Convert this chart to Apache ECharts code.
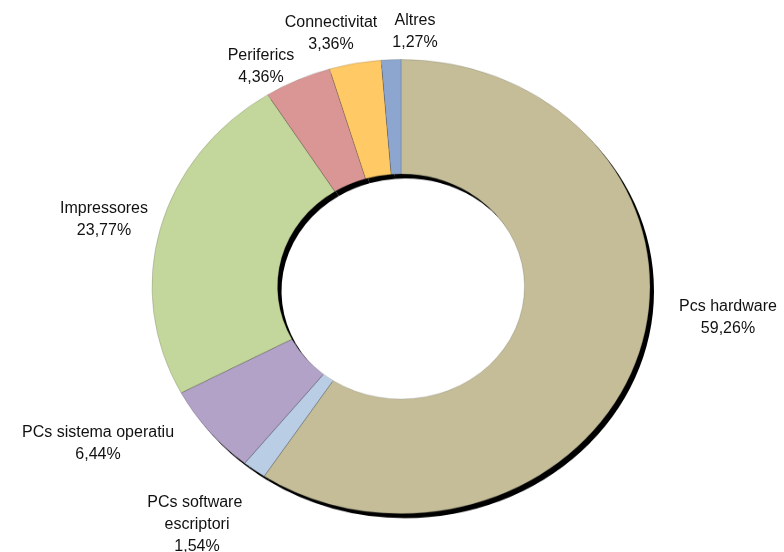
<!DOCTYPE html>
<html>
<head>
<meta charset="utf-8">
<script src="https://cdn.jsdelivr.net/npm/echarts@6/dist/echarts.min.js"></script>
<style>
  html, body { margin: 0; padding: 0; background: #fff; }
  #wrap { position: relative; width: 784px; height: 552px; overflow: hidden; }
  #ring { position: absolute; left: 0; top: 0; width: 784px; height: 552px;
          transform-origin: 0 286.5px; transform: scaleY(0.912); }
  #labels { position: absolute; left: 0; top: 0; width: 784px; height: 552px; }
</style>
</head>
<body>
<div id="wrap">
  <div id="ring"></div>
  <div id="labels"></div>
</div>
<script>
// ---- data ----
var categories = ['Pcs hardware', 'PCs software escriptori', 'PCs sistema operatiu',
                  'Impressores', 'Periferics', 'Connectivitat', 'Altres'];
var shares = [59.26, 1.54, 6.44, 23.77, 4.36, 3.36, 1.27];

// ---- styling / layout (not data) ----
var colors = ['#C4BD97', '#B9CDE5', '#B2A2C7', '#C3D69B', '#D99694', '#FFC966', '#8DA6CF'];
var labelCenters = [[728, 318], [197, 525], [98, 444], [104, 220], [261, 67], [331, 34], [415, 32]];
var CX = 401, CY = 286.5;

function fmt(v) { return v.toFixed(2).replace('.', ','); }

var ringData = categories.map(function (c, i) {
  return { name: c, value: shares[i], itemStyle: { color: colors[i] } };
});
var shadowData = categories.map(function (c, i) {
  return { name: c, value: shares[i] };
});

var ring = echarts.init(document.getElementById('ring'), null, { renderer: 'canvas' });
ring.setOption({
  animation: false,
  series: [{
    // drop shadow of the ring
    type: 'pie',
    center: [CX + 4, CY + 5],
    radius: [123.5, 249],
    startAngle: 90,
    clockwise: true,
    silent: true,
    z: 1,
    label: { show: false },
    labelLine: { show: false },
    itemStyle: { color: '#000', borderWidth: 0 },
    emphasis: { disabled: true },
    data: shadowData
  }, {
    type: 'pie',
    center: [CX, CY],
    radius: [123.5, 249],
    startAngle: 90,
    clockwise: true,
    z: 2,
    avoidLabelOverlap: false,
    label: { show: false },
    labelLine: { show: false },
    itemStyle: {
      borderColor: 'rgba(70,70,70,0.45)',
      borderWidth: 0.5
    },
    emphasis: { disabled: true },
    data: ringData
  }]
});

var labelData = categories.map(function (c, i) {
  var item = { name: c, value: shares[i] };
  if (c === 'PCs software escriptori') {
    item.label = { width: 112, overflow: 'break' };
  }
  return item;
});

var lab = echarts.init(document.getElementById('labels'), null, { renderer: 'canvas' });
lab.setOption({
  animation: false,
  series: [{
    type: 'pie',
    center: [CX, CY],
    radius: [123.5, 249],
    startAngle: 90,
    clockwise: true,
    silent: true,
    avoidLabelOverlap: false,
    itemStyle: { color: 'rgba(0,0,0,0)' },
    labelLine: { show: false },
    label: {
      show: true,
      position: 'outside',
      color: '#111',
      fontFamily: 'Liberation Sans, Arial, sans-serif',
      fontSize: 16,
      lineHeight: 22,
      align: 'center',
      formatter: function (p) { return p.name + '\n' + fmt(p.value) + '%'; }
    },
    labelLayout: function (p) {
      var c = labelCenters[p.dataIndex];
      return { x: c[0], y: c[1], align: 'center', verticalAlign: 'middle' };
    },
    emphasis: { disabled: true },
    data: labelData
  }]
});
</script>
</body>
</html>
